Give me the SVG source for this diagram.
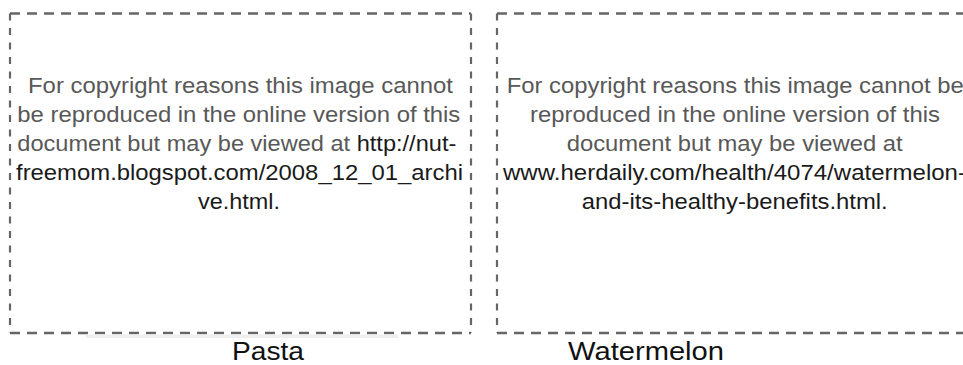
<svg xmlns="http://www.w3.org/2000/svg" width="963" height="365" viewBox="0 0 963 365">
<style>
.h{stroke:#666;stroke-width:2.5;stroke-dasharray:10 7;fill:none}
.v{stroke:#666;stroke-width:2.2;stroke-dasharray:7 7.5;fill:none}
.t{font-family:"Liberation Sans",Arial,sans-serif;font-size:22px;fill:#585858}
.k{fill:#1a1a1a}
.lbl{font-family:"Liberation Sans",Arial,sans-serif;font-size:25px;fill:#111}
</style>
<rect width="963" height="365" fill="#fff"/>
<g id="pasta">
<line class="h" x1="10" y1="13.5" x2="471" y2="13.5"/>
<line class="h" x1="10" y1="333" x2="471" y2="333"/>
<line class="v" x1="10" y1="13.5" x2="10" y2="333"/>
<line class="v" x1="471" y1="13.5" x2="471" y2="333"/>
<rect x="86" y="334.5" width="312" height="3.5" fill="#efefef"/>
<text class="t" x="28" y="92.5" textLength="425" lengthAdjust="spacingAndGlyphs">For copyright reasons this image cannot</text>
<text class="t" x="17.3" y="121.5" textLength="443" lengthAdjust="spacingAndGlyphs">be reproduced in the online version of this</text>
<text class="t" x="17.3" y="150.5" textLength="439" lengthAdjust="spacingAndGlyphs">document but may be viewed at <tspan class="k">http://nut-</tspan></text>
<text class="t k" x="16" y="179.5" textLength="447" lengthAdjust="spacingAndGlyphs">freemom.blogspot.com/2008_12_01_archi</text>
<text class="t k" x="198" y="208.5" textLength="82" lengthAdjust="spacingAndGlyphs">ve.html.</text>
<text class="lbl" x="232" y="360" textLength="72" lengthAdjust="spacingAndGlyphs">Pasta</text>
</g>
<g id="watermelon">
<line class="h" x1="497" y1="13.5" x2="975" y2="13.5"/>
<line class="h" x1="497" y1="333" x2="975" y2="333"/>
<line class="v" x1="497" y1="13.5" x2="497" y2="333"/>
<text class="t" x="506.7" y="92.5" textLength="457" lengthAdjust="spacingAndGlyphs">For copyright reasons this image cannot be</text>
<text class="t" x="530" y="121.5" textLength="410" lengthAdjust="spacingAndGlyphs">reproduced in the online version of this</text>
<text class="t" x="566.7" y="150.5" textLength="336" lengthAdjust="spacingAndGlyphs">document but may be viewed at</text>
<text class="t k" x="503" y="179.5" textLength="463" lengthAdjust="spacingAndGlyphs">www.herdaily.com/health/4074/watermelon-</text>
<text class="t k" x="581.7" y="208.5" textLength="306" lengthAdjust="spacingAndGlyphs">and-its-healthy-benefits.html.</text>
<text class="lbl" x="568" y="360" textLength="156" lengthAdjust="spacingAndGlyphs">Watermelon</text>
</g>
</svg>
